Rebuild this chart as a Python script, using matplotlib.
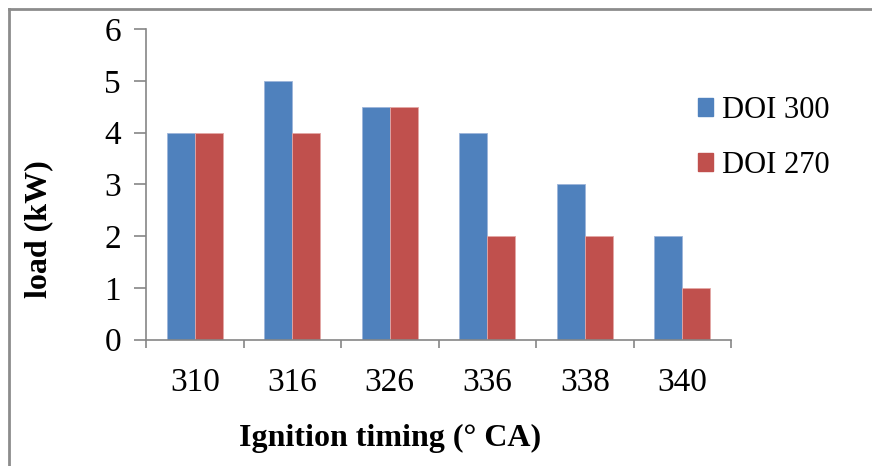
import matplotlib
matplotlib.use("Agg")
import matplotlib.pyplot as plt
import numpy as np
from matplotlib.lines import Line2D
from matplotlib.patches import Patch

categories = ["310", "316", "326", "336", "338", "340"]
doi300 = [4, 5, 4.5, 4, 3, 2]
doi270 = [4, 4, 4.5, 2, 2, 1]
series_names = ["DOI 300", "DOI 270"]
y_ticks = [0, 1, 2, 3, 4, 5, 6]

plt.rcParams['font.family'] = ['Liberation Serif', 'DejaVu Serif']

W, H = 872, 466
fig = plt.figure(figsize=(W/100, H/100), dpi=100)
ax = fig.add_axes([146/W, 1-339.5/H, (731-146)/W, (339.5-29.3)/H])

x = np.arange(len(categories))
bw = 0.285
blue = "#4F81BD"
red = "#C0504D"
ax.bar(x - bw/2, doi300, bw, color=blue, edgecolor="#9DB5DA", linewidth=0.6, label=series_names[0])
ax.bar(x + bw/2, doi270, bw, color=red, edgecolor="#E3A7A5", linewidth=0.6, label=series_names[1])

ax.set_xlim(-0.5, len(categories)-0.5)
ax.set_ylim(0, 6)
ax.set_yticks(y_ticks)
ax.set_yticklabels([str(t) for t in y_ticks], fontsize=24)
ax.set_xticks(np.arange(-0.5, len(categories)))
ax.set_xticklabels([])
ax.set_xticks(x, minor=True)
ax.set_xticklabels(categories, minor=True, fontsize=24)
ax.tick_params(axis='x', which='minor', length=0, pad=20)
ax.tick_params(axis='x', which='major', length=6, width=1.2, color="#868686", direction='out')
ax.tick_params(axis='y', length=9, width=1.2, color="#868686", direction='out', pad=9)
for s in ['top', 'right']:
    ax.spines[s].set_visible(False)
for s in ['left', 'bottom']:
    ax.spines[s].set_color("#868686")
    ax.spines[s].set_linewidth(1.2)

ax.set_xlabel("Ignition timing (° CA)", fontsize=23, fontweight='bold')
ax.xaxis.set_label_coords(390/W, 1-438/H, transform=fig.transFigure)
ax.set_ylabel("load (kW)", fontsize=23, fontweight='bold')
ax.yaxis.set_label_coords(39/W, 1-229/H, transform=fig.transFigure)
ax.xaxis.label.set_va('center')
ax.yaxis.label.set_va('center')

handles = [Patch(facecolor=blue, edgecolor=blue), Patch(facecolor=red, edgecolor=red)]
fig.legend(handles, series_names, loc='upper left', bbox_to_anchor=(698/W, 1-96/H),
           frameon=False, fontsize=22, handlelength=0.5, handleheight=0.5,
           handletextpad=0.3, labelspacing=0.85, borderpad=0, borderaxespad=0)

# figure border
fig.add_artist(Line2D([9/W, 1], [1-9/H, 1-9/H], color="#8C8C8C", linewidth=2, transform=fig.transFigure))
fig.add_artist(Line2D([9/W, 9/W], [1-9/H, 0], color="#8C8C8C", linewidth=2, transform=fig.transFigure))

fig.savefig("out.png", dpi=100)
